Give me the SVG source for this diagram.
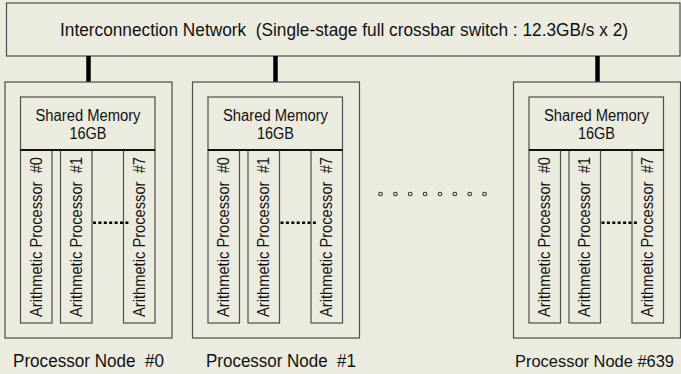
<svg xmlns="http://www.w3.org/2000/svg" width="681" height="374" viewBox="0 0 681 374">
  <style>
    text { font-family: "Liberation Sans", Arial, Helvetica, sans-serif; fill: #111; white-space: pre; }
    .box { fill: #ecebdf; stroke: #4d4d4d; stroke-width: 1.2; }
    .sep { stroke: #111; stroke-width: 1.8; }
    .link { stroke: #000; stroke-width: 4.5; }
    .dots { stroke: #000; stroke-width: 2.6; stroke-dasharray: 3 2.4; }
    .ellipsis { fill: #ecebdf; stroke: #333; stroke-width: 1.1; }
    .lbl { font-size: 16px; text-anchor: middle; }
    .title { font-size: 17.5px; text-anchor: middle; }
    .cap { font-size: 17.5px; }
  </style>
  <defs>
    <!-- one processor node: shared memory above eight arithmetic processors -->
    <g id="proc-node">
      <rect class="box" x="0" y="0" width="167" height="256"/>
      <rect class="box" x="15.5" y="15" width="134.5" height="53"/>
      <text class="lbl" x="83" y="38.5" textLength="105" lengthAdjust="spacingAndGlyphs">Shared Memory</text>
      <text class="lbl" x="83" y="57" textLength="37" lengthAdjust="spacingAndGlyphs">16GB</text>
      <rect class="box" x="15.5" y="68" width="31.5" height="173"/>
      <rect class="box" x="55.5" y="68" width="31.5" height="173"/>
      <rect class="box" x="118.5" y="68" width="31.5" height="173"/>
      <line class="sep" x1="15.5" y1="68" x2="150" y2="68"/>
      <text class="lbl" xml:space="preserve" textLength="160" lengthAdjust="spacingAndGlyphs" transform="translate(36.8,155) rotate(-90)">Arithmetic Processor  #0</text>
      <text class="lbl" xml:space="preserve" textLength="160" lengthAdjust="spacingAndGlyphs" transform="translate(76.8,155) rotate(-90)">Arithmetic Processor  #1</text>
      <text class="lbl" xml:space="preserve" textLength="160" lengthAdjust="spacingAndGlyphs" transform="translate(139.8,155) rotate(-90)">Arithmetic Processor  #7</text>
      <line class="dots" x1="88" y1="140.7" x2="125" y2="140.7"/>
    </g>
  </defs>

  <rect x="0" y="0" width="681" height="374" fill="#ecebdf"/>

  <g id="network">
    <rect class="box" x="6.5" y="3" width="673.5" height="53"/>
    <text class="title" xml:space="preserve" x="344" y="36" textLength="568" lengthAdjust="spacingAndGlyphs">Interconnection Network  (Single-stage full crossbar switch : 12.3GB/s x 2)</text>
  </g>

  <g id="connectors">
    <line class="link" x1="88.5" y1="56" x2="88.5" y2="82"/>
    <line class="link" x1="275.5" y1="56" x2="275.5" y2="82"/>
    <line class="link" x1="597.5" y1="56" x2="597.5" y2="82"/>
  </g>

  <g id="node-0">
    <use href="#proc-node" x="5" y="82"/>
    <text class="cap" xml:space="preserve" x="13" y="367" textLength="151" lengthAdjust="spacingAndGlyphs">Processor Node  #0</text>
  </g>

  <g id="node-1">
    <use href="#proc-node" x="192.5" y="82"/>
    <text class="cap" xml:space="preserve" x="206" y="367" textLength="150" lengthAdjust="spacingAndGlyphs">Processor Node  #1</text>
  </g>

  <g id="ellipsis">
    <circle class="ellipsis" cx="380.5" cy="194" r="1.8"/>
    <circle class="ellipsis" cx="395.4" cy="194" r="1.8"/>
    <circle class="ellipsis" cx="410.2" cy="194" r="1.8"/>
    <circle class="ellipsis" cx="425.1" cy="194" r="1.8"/>
    <circle class="ellipsis" cx="440" cy="194" r="1.8"/>
    <circle class="ellipsis" cx="454.8" cy="194" r="1.8"/>
    <circle class="ellipsis" cx="469.7" cy="194" r="1.8"/>
    <circle class="ellipsis" cx="484.5" cy="194" r="1.8"/>
  </g>

  <g id="node-639">
    <use href="#proc-node" x="513.5" y="82"/>
    <text class="cap" x="515" y="367" style="font-size:16.4px" textLength="159" lengthAdjust="spacingAndGlyphs">Processor Node #639</text>
  </g>
</svg>
